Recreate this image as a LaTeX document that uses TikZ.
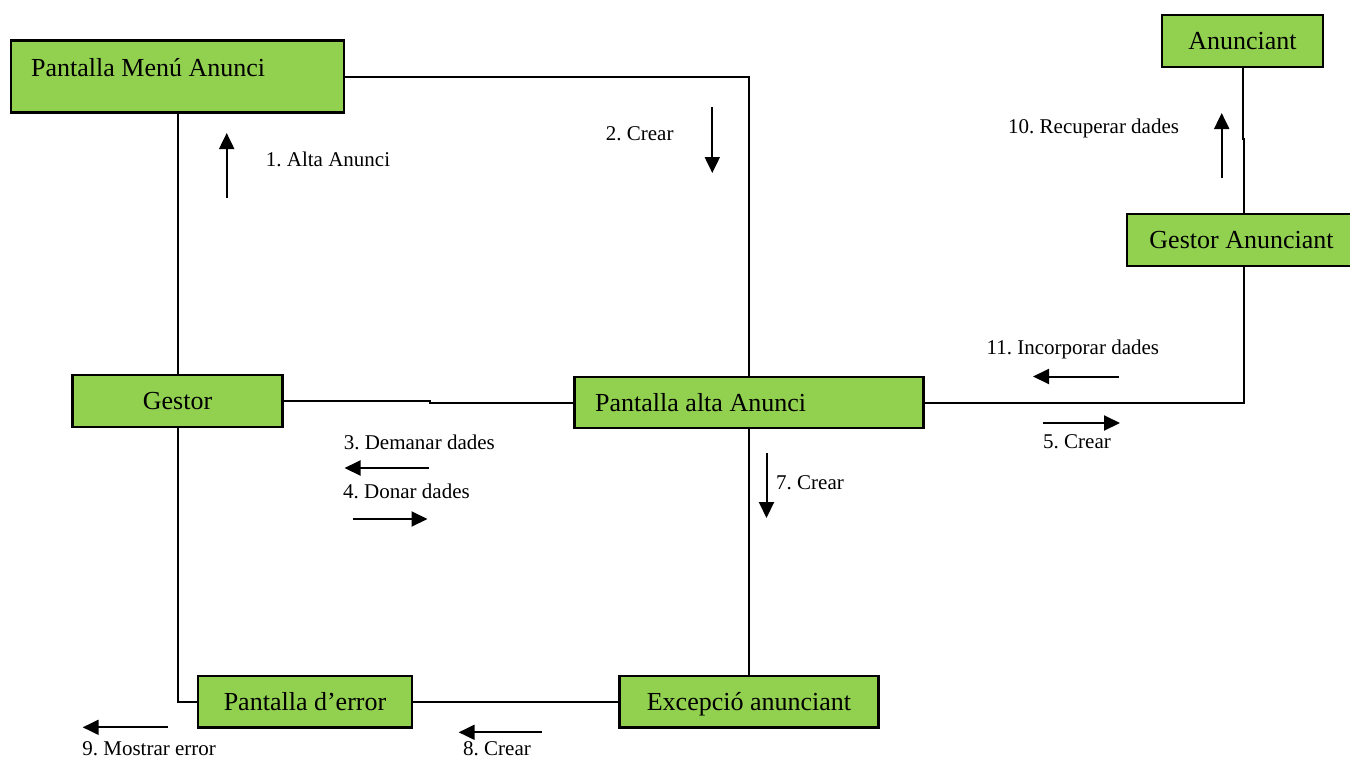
\documentclass[tikz,border=0pt]{standalone}
\usepackage{fontspec}
\setmainfont{Liberation Serif}
\usetikzlibrary{arrows.meta}
\definecolor{boxgreen}{RGB}{146,208,80}
\frenchspacing
\begin{document}
\begin{tikzpicture}[x=1pt,y=-1pt,
  obj/.style={draw=black, fill=boxgreen, line width=2.5pt, inner sep=0pt,
    text height=17pt, text depth=0pt, font=\fontsize{26}{30}\selectfont},
  objtext/.style={anchor=base west, inner sep=0pt, font=\fontsize{26}{30}\selectfont},
  link/.style={line width=2pt},
  msg/.style={line width=2pt, -{Triangle[width=15pt,length=16pt]}},
  lbl/.style={anchor=base west, inner sep=0pt, font=\fontsize{21}{24}\selectfont}]
\useasboundingbox (0,0) rectangle (1350,758);

% objects
\node[obj, minimum width=333pt, minimum height=72pt] (menu) at (177.5,76.5) {};
\node[objtext] (menutext) at (31,76.7) {Pantalla Menú Anunci};
\node[obj, minimum width=161pt, minimum height=52pt] (anun) at (1242.5,41) {Anunciant};
\node[obj, minimum width=229pt, minimum height=52pt] (gan) at (1241.5,240) {Gestor Anunciant};
\node[obj, minimum width=210pt, minimum height=52pt] (gestor) at (177.5,401) {Gestor};
\node[obj, minimum width=349pt, minimum height=51pt] (alta) at (749,402.5) {};
\node[objtext] (altatext) at (595,411.5) {Pantalla alta Anunci};
\node[obj, minimum width=214pt, minimum height=51.5pt] (err) at (305,701.75) {Pantalla d’error};
\node[obj, minimum width=259pt, minimum height=51.5pt] (exc) at (749,701.75) {Excepció anunciant};

% connectors
\draw[link] (menu.east) -| (alta.north);
\draw[link] (menu.south) -- (gestor.north);
\draw[link] (gestor.east) -- ++(146,0) |- (alta.west);
\draw[link] (gestor.south) |- (err.west);
\draw[link] (err.east) -- (exc.west);
\draw[link] (alta.south) -- (exc.north);
\draw[link] (alta.east) -| ([xshift=2.5pt]gan.south);
\draw[link] ([xshift=2.5pt]gan.north) -- ++(0,-74) -| (anun.south);

% message arrows
\coordinate (a1s) at (226.7,198);   \coordinate (a1e) at (226.7,133);
\coordinate (a2s) at (712.3,107);   \coordinate (a2e) at (712.3,173);
\coordinate (a10s) at (1221.7,178); \coordinate (a10e) at (1221.7,113);
\coordinate (a11s) at (1119,376.5); \coordinate (a11e) at (1033,376.5);
\coordinate (a5s) at (1043,423);    \coordinate (a5e) at (1120,423);
\coordinate (a7s) at (766.5,453);   \coordinate (a7e) at (766.5,518);
\coordinate (a3s) at (429,468);     \coordinate (a3e) at (344.5,468);
\coordinate (a4s) at (352.5,519);   \coordinate (a4e) at (427.5,519);
\coordinate (a9s) at (167.5,727.3); \coordinate (a9e) at (82.7,727.3);
\coordinate (a8s) at (542,732.3);   \coordinate (a8e) at (458.7,732.3);
\foreach \s/\e in {a1s/a1e,a2s/a2e,a10s/a10e,a11s/a11e,a5s/a5e,a7s/a7e,a3s/a3e,a4s/a4e,a9s/a9e,a8s/a8e}
  \draw[msg] (\s) -- (\e);

% labels
\node[lbl] (l1) at (265.7,166) {1. Alta Anunci};
\node[lbl] (l2) at (605.7,140) {2. Crear};
\node[lbl] (l10) at (1008,133.7) {10. Recuperar dades};
\node[lbl] (l11) at (986.5,354) {11. Incorporar dades};
\node[lbl] (l5) at (1043,448.7) {5. Crear};
\node[lbl] (l7) at (776,489) {7. Crear};
\node[lbl] (l3) at (343.6,449.3) {3. Demanar dades};
\node[lbl] (l4) at (343,498.3) {4. Donar dades};
\node[lbl] (l9) at (82.2,755.5) {9. Mostrar error};
\node[lbl] (l8) at (463,755.5) {8. Crear};
\end{tikzpicture}
\end{document}
